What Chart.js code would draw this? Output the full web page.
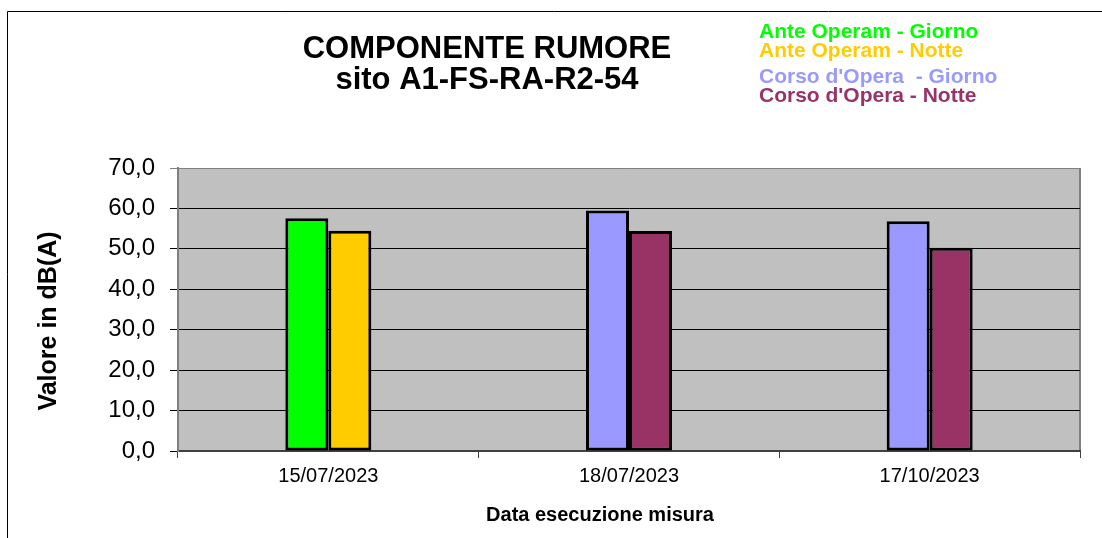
<!DOCTYPE html>
<html>
<head>
<meta charset="utf-8">
<script src="https://cdn.jsdelivr.net/npm/chart.js@4.4.1/dist/chart.umd.min.js"></script>
<style>
  body { margin: 0; background: #fff; }
  #wrap { width: 1102px; height: 538px; }
</style>
</head>
<body>
<div id="wrap"><canvas id="myChart" width="1102" height="538"></canvas></div>
<script>
// dati
var categories = ['15/07/2023', '18/07/2023', '17/10/2023'];
var anteGiorno = [57.6, null, null];
var anteNotte = [54.5, null, null];
var corsoGiorno = [null, 59.5, 56.8];
var corsoNotte = [null, 54.4, 50.3];
var yTicks = [0, 10, 20, 30, 40, 50, 60, 70];

var titleLines = ['COMPONENTE RUMORE', 'sito A1-FS-RA-R2-54'];
var yTitle = 'Valore in dB(A)';
var xTitle = 'Data esecuzione misura';

var FONT = "'Liberation Sans', Arial, sans-serif";

function makeSet(label, data, color) {
    return {
        label: label,
        data: data,
        backgroundColor: color,
        borderColor: '#000',
        borderWidth: 3,
        borderSkipped: false,
        skipNull: true,
        categoryPercentage: 0.286,
        barPercentage: 1.0
    };
}

// sfondo grigio, cornice e testi
var decorPlugin = {
    id: 'decor',
    beforeDraw: function(chart) {
        var c = chart.ctx, a = chart.chartArea;
        c.save();
        c.fillStyle = '#C0C0C0';
        c.fillRect(a.left, a.top, a.right - a.left, a.bottom - a.top);
        c.strokeStyle = '#808080';
        c.lineWidth = 2;
        c.beginPath();
        c.moveTo(a.right, a.top);
        c.lineTo(a.right, a.bottom);
        c.stroke();
        // cornice esterna
        c.strokeStyle = '#000';
        c.lineWidth = 1;
        c.beginPath();
        c.moveTo(7.5, 538);
        c.lineTo(7.5, 11.5);
        c.lineTo(1102, 11.5);
        c.stroke();
        c.restore();
    },
    afterDraw: function(chart) {
        var c = chart.ctx;
        c.save();
        c.fillStyle = '#000';
        c.textAlign = 'center';
        c.textBaseline = 'alphabetic';
        c.font = 'bold 31px ' + FONT;
        c.fillText(titleLines[0], 487, 58);
        c.fillText(titleLines[1], 487, 89);

        // legenda solo testo colorato
        var baselines = [38, 57, 83, 102];
        c.textAlign = 'left';
        c.font = 'bold 21px ' + FONT;
        chart.data.datasets.forEach(function(ds, i) {
            c.fillStyle = ds.backgroundColor;
            c.fillText(ds.label, 759, baselines[i]);
        });

        c.fillStyle = '#000';
        c.textAlign = 'center';
        c.textBaseline = 'middle';
        c.font = 'bold 20px ' + FONT;
        c.fillText(xTitle, 600, 515);

        c.translate(49, 321);
        c.rotate(-Math.PI / 2);
        c.font = 'bold 25px ' + FONT;
        c.fillText(yTitle, 0, 0);
        c.restore();
    }
};

var ctx = document.getElementById('myChart').getContext('2d');
var myChart = new Chart(ctx, {
    type: 'bar',
    data: {
        labels: categories,
        datasets: [
            makeSet('Ante Operam - Giorno', anteGiorno, '#00FF00'),
            makeSet('Ante Operam - Notte', anteNotte, '#FFCC00'),
            makeSet("Corso d'Opera  - Giorno", corsoGiorno, '#9999FF'),
            makeSet("Corso d'Opera - Notte", corsoNotte, '#993366')
        ]
    },
    options: {
        responsive: false,
        devicePixelRatio: 1,
        animation: false,
        layout: { padding: { top: 168, right: 22, left: 0, bottom: 0 } },
        plugins: {
            legend: { display: false },
            title: { display: false },
            tooltip: { enabled: false }
        },
        scales: {
            x: {
                offset: true,
                afterFit: function(scale) { scale.height = 87; },
                grid: {
                    drawOnChartArea: false,
                    tickLength: 7,
                    color: '#404040'
                },
                border: { display: true, color: '#404040', width: 2 },
                ticks: {
                    color: '#000',
                    padding: 6,
                    font: { family: FONT, size: 20 }
                }
            },
            y: {
                min: 0,
                max: 70,
                afterFit: function(scale) { scale.width = 178; },
                afterBuildTicks: function(scale) {
                    scale.ticks = yTicks.map(function(v) { return { value: v }; });
                },
                grid: {
                    tickLength: 8,
                    color: function(context) {
                        return context.tick && context.tick.value === 70 ? '#808080' : '#000';
                    }
                },
                border: { display: true, color: '#808080', width: 2 },
                ticks: {
                    color: '#000',
                    padding: 15,
                    font: { family: FONT, size: 24 },
                    callback: function(v) { return v.toFixed(1).replace('.', ','); }
                }
            }
        }
    },
    plugins: [decorPlugin]
});
</script>
</body>
</html>
